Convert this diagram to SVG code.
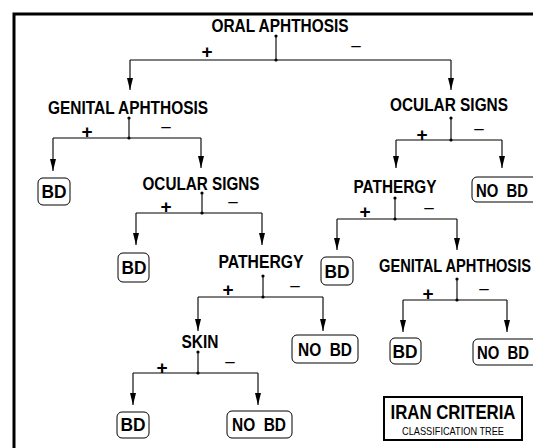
<svg xmlns="http://www.w3.org/2000/svg" width="533" height="448" viewBox="0 0 533 448">
<defs>
<style>
.lbl{font-family:"Liberation Sans",Arial,sans-serif;font-weight:bold;font-size:18px;text-anchor:middle;fill:#000}
.bt{font-family:"Liberation Sans",Arial,sans-serif;font-weight:bold;font-size:18px;text-anchor:middle;fill:#000}
.pm{font-family:"Liberation Sans",Arial,sans-serif;font-weight:bold;font-size:19px;text-anchor:middle;fill:#000}
.mn{font-family:"Liberation Sans",Arial,sans-serif;font-size:17px;text-anchor:middle;fill:#000}
.box{fill:#fff;stroke:#000;stroke-width:1}
.h{stroke:#555;stroke-width:1.3;fill:none}
.v{stroke:#111;stroke-width:1.2;fill:none}
.a{stroke:#111;stroke-width:1.2;fill:none;marker-end:url(#ah)}
.d{fill:#000}
</style>
<marker id="ah" markerUnits="userSpaceOnUse" markerWidth="14" markerHeight="8" refX="12" refY="3.5" orient="auto" viewBox="0 0 14 8">
<path d="M0,0.5 L12,3.5 L0,6.5 z" fill="#000"/>
</marker>
</defs>
<rect x="14" y="14" width="600" height="600" fill="#fff" stroke="#000" stroke-width="3"/>

<g id="connectors">
<line class="v" x1="276" y1="36" x2="276" y2="60"/>
<line class="h" x1="130" y1="60" x2="451" y2="60"/>
<line class="a" x1="130" y1="60" x2="130" y2="90"/>
<line class="a" x1="451" y1="60" x2="451" y2="90"/>
<circle class="d" cx="276" cy="36" r="1.6"/><circle class="d" cx="276" cy="60" r="1.6"/>
<text class="pm" x="207" y="58">+</text><text class="mn" x="356" y="51">–</text>

<line class="v" x1="129" y1="118" x2="129" y2="138"/>
<line class="h" x1="53" y1="138" x2="201" y2="138"/>
<line class="a" x1="53" y1="138" x2="53" y2="171"/>
<line class="a" x1="201" y1="138" x2="201" y2="168"/>
<circle class="d" cx="129" cy="118" r="1.6"/><circle class="d" cx="129" cy="138" r="1.6"/>
<text class="pm" x="87" y="138">+</text><text class="mn" x="166" y="132">–</text>

<line class="v" x1="202" y1="193" x2="202" y2="213"/>
<line class="h" x1="136" y1="213" x2="262" y2="213"/>
<line class="a" x1="136" y1="213" x2="136" y2="245"/>
<line class="a" x1="262" y1="213" x2="262" y2="245"/>
<circle class="d" cx="202" cy="193" r="1.6"/><circle class="d" cx="202" cy="213" r="1.6"/>
<text class="pm" x="166" y="213">+</text><text class="mn" x="233" y="207">–</text>

<line class="v" x1="263" y1="276" x2="263" y2="297"/>
<line class="h" x1="198" y1="297" x2="323" y2="297"/>
<line class="a" x1="198" y1="297" x2="198" y2="331"/>
<line class="a" x1="323" y1="297" x2="323" y2="331"/>
<circle class="d" cx="263" cy="276" r="1.6"/><circle class="d" cx="263" cy="297" r="1.6"/>
<text class="pm" x="228" y="296">+</text><text class="mn" x="295" y="291">–</text>

<line class="v" x1="198" y1="352" x2="198" y2="373"/>
<line class="h" x1="133" y1="373" x2="258" y2="373"/>
<line class="a" x1="133" y1="373" x2="133" y2="405"/>
<line class="a" x1="258" y1="373" x2="258" y2="405"/>
<circle class="d" cx="198" cy="352" r="1.6"/><circle class="d" cx="198" cy="373" r="1.6"/>
<text class="pm" x="162" y="374">+</text><text class="mn" x="230" y="367">–</text>

<line class="v" x1="451" y1="118" x2="451" y2="140"/>
<line class="h" x1="396" y1="140" x2="502" y2="140"/>
<line class="a" x1="396" y1="140" x2="396" y2="168"/>
<line class="a" x1="502" y1="140" x2="502" y2="168"/>
<circle class="d" cx="451" cy="118" r="1.6"/><circle class="d" cx="451" cy="140" r="1.6"/>
<text class="pm" x="422" y="141">+</text><text class="mn" x="479" y="134">–</text>

<line class="v" x1="395" y1="198" x2="395" y2="219"/>
<line class="h" x1="337" y1="219" x2="457" y2="219"/>
<line class="a" x1="337" y1="219" x2="337" y2="250"/>
<line class="a" x1="457" y1="219" x2="457" y2="250"/>
<circle class="d" cx="395" cy="198" r="1.6"/><circle class="d" cx="395" cy="219" r="1.6"/>
<text class="pm" x="365" y="218">+</text><text class="mn" x="429" y="213">–</text>

<line class="v" x1="457" y1="279" x2="457" y2="300"/>
<line class="h" x1="403" y1="300" x2="507" y2="300"/>
<line class="a" x1="403" y1="300" x2="403" y2="332"/>
<line class="a" x1="507" y1="300" x2="507" y2="332"/>
<circle class="d" cx="457" cy="279" r="1.6"/><circle class="d" cx="457" cy="300" r="1.6"/>
<text class="pm" x="428" y="300">+</text><text class="mn" x="484" y="294">–</text>
</g>

<g id="n-oral"><text class="lbl" x="280" y="32" textLength="137" lengthAdjust="spacingAndGlyphs">ORAL APHTHOSIS</text></g>
<g id="n-genital-l"><text class="lbl" x="128" y="114" textLength="160" lengthAdjust="spacingAndGlyphs">GENITAL APHTHOSIS</text></g>
<g id="n-bd1"><rect class="box" x="38" y="178" width="32" height="27" rx="5"/><text class="bt" x="54" y="198" textLength="25" lengthAdjust="spacingAndGlyphs">BD</text></g>
<g id="n-ocular-m"><text class="lbl" x="201" y="190" textLength="117" lengthAdjust="spacingAndGlyphs">OCULAR SIGNS</text></g>
<g id="n-bd2"><rect class="box" x="118" y="253" width="31" height="29" rx="5"/><text class="bt" x="134" y="274" textLength="25" lengthAdjust="spacingAndGlyphs">BD</text></g>
<g id="n-pathergy-m"><text class="lbl" x="261" y="268" textLength="85" lengthAdjust="spacingAndGlyphs">PATHERGY</text></g>
<g id="n-skin"><text class="lbl" x="200" y="348" textLength="37" lengthAdjust="spacingAndGlyphs">SKIN</text></g>
<g id="n-bd3"><rect class="box" x="117" y="412" width="32" height="26" rx="5"/><text class="bt" x="133" y="431" textLength="25" lengthAdjust="spacingAndGlyphs">BD</text></g>
<g id="n-nobd1"><rect class="box" x="227" y="411" width="65" height="27" rx="5"/><text class="bt" x="259" y="431" textLength="54" lengthAdjust="spacingAndGlyphs" xml:space="preserve">NO  BD</text></g>
<g id="n-nobd2"><rect class="box" x="292" y="335" width="66" height="28" rx="5"/><text class="bt" x="325" y="356" textLength="54" lengthAdjust="spacingAndGlyphs" xml:space="preserve">NO  BD</text></g>
<g id="n-ocular-r"><text class="lbl" x="449" y="111" textLength="118" lengthAdjust="spacingAndGlyphs">OCULAR SIGNS</text></g>
<g id="n-nobd3"><rect class="box" x="472" y="177" width="72" height="25" rx="5"/><text class="bt" x="476" y="197" style="text-anchor:start" textLength="52" lengthAdjust="spacingAndGlyphs" xml:space="preserve">NO  BD</text></g>
<g id="n-pathergy-r"><text class="lbl" x="395" y="193" textLength="83" lengthAdjust="spacingAndGlyphs">PATHERGY</text></g>
<g id="n-bd4"><rect class="box" x="321" y="257" width="32" height="28" rx="5"/><text class="bt" x="337" y="278" textLength="25" lengthAdjust="spacingAndGlyphs">BD</text></g>
<g id="n-genital-r"><text class="lbl" x="379" y="272" style="text-anchor:start" textLength="152" lengthAdjust="spacingAndGlyphs">GENITAL APHTHOSIS</text></g>
<g id="n-bd5"><rect class="box" x="390" y="338" width="31" height="26" rx="5"/><text class="bt" x="405" y="358" textLength="25" lengthAdjust="spacingAndGlyphs">BD</text></g>
<g id="n-nobd4"><rect class="box" x="473" y="339" width="72" height="26" rx="5"/><text class="bt" x="477" y="359" style="text-anchor:start" textLength="52" lengthAdjust="spacingAndGlyphs" xml:space="preserve">NO  BD</text></g>
<g id="title">
<rect x="384" y="397" width="138" height="43" fill="#fff" stroke="#000" stroke-width="2"/>
<text class="lbl" x="453" y="419" style="font-size:21px" textLength="125" lengthAdjust="spacingAndGlyphs">IRAN CRITERIA</text>
<text x="453" y="435" style="font-family:'Liberation Sans',Arial,sans-serif;font-size:11px;text-anchor:middle" textLength="102" lengthAdjust="spacingAndGlyphs">CLASSIFICATION TREE</text>
</g>
</svg>
